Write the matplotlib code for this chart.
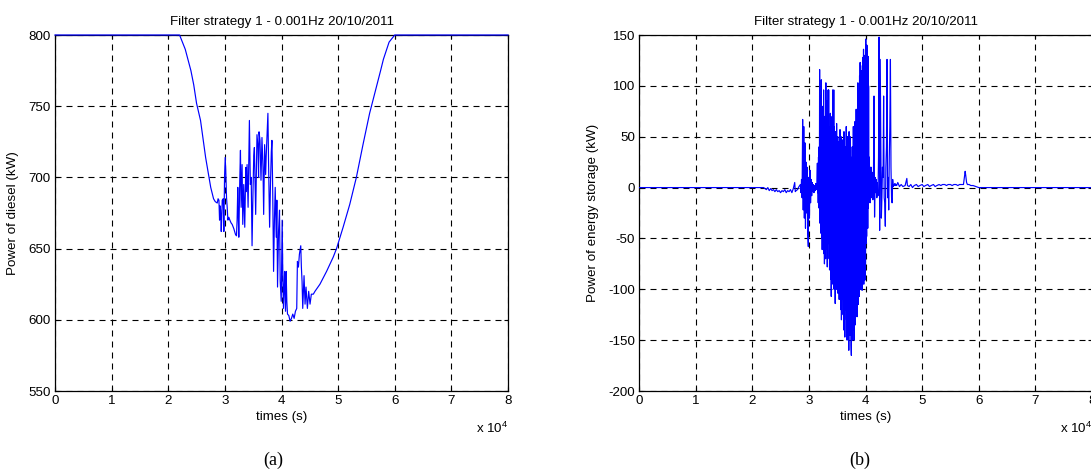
import numpy as np
import matplotlib
matplotlib.use('Agg')
import matplotlib.pyplot as plt

plt.rcParams['font.family'] = ['Liberation Sans', 'DejaVu Sans']
plt.rcParams['mathtext.fontset'] = 'custom'
plt.rcParams['mathtext.rm'] = 'Liberation Sans'
plt.rcParams['mathtext.it'] = 'Liberation Sans:italic'
plt.rcParams['axes.unicode_minus'] = False

title = 'Filter strategy 1 - 0.001Hz 20/10/2011'
x_ticks = [0, 10000, 20000, 30000, 40000, 50000, 60000, 70000, 80000]
x_tick_labels = ['0', '1', '2', '3', '4', '5', '6', '7', '8']
diesel_yticks = [550, 600, 650, 700, 750, 800]
storage_yticks = [-200, -150, -100, -50, 0, 50, 100, 150]

# (a) diesel power
diesel_t = [0, 22000, 23000, 24000, 24500, 25000, 25700, 26600, 27500, 28000,
            28300, 28650, 28800, 28950, 29060, 29150, 29240, 29360, 29450, 29530,
            29710, 29820, 29940, 30060, 30180, 30290, 30410, 30530, 30700, 30880,
            31100, 31290, 31580, 31870, 32050, 32160, 32280, 32360, 32460, 32630,
            32750, 32870, 33040, 33160, 33330, 33510, 33690, 33800, 33920, 34100,
            34330, 34500, 34650, 34800, 34970, 35100, 35210, 35440, 35550, 35670,
            35850, 35950, 36030, 36200, 36380, 36550, 36730, 36850, 37020, 37200,
            37300, 37430, 37600, 37720, 37900, 38070, 38200, 38310, 38450, 38600,
            38750, 38890, 39070, 39180, 39300, 39480, 39650, 39770, 39950, 40120,
            40240, 40350, 40530, 40710, 40820, 40940, 41060, 41290, 41520, 41760,
            41990, 42230, 42460, 42690, 42810, 42990, 43160, 43400, 43510, 43630,
            43750, 43980, 44160, 44330, 44570, 44800, 45040, 45270, 45620, 45910,
            46790, 47960, 49130, 49720, 50880, 52050, 53220, 54390, 55560, 56730,
            57500, 58000, 59000, 60000, 80000]
diesel_kw = [800, 800, 790, 775, 765, 752, 740, 714, 693, 685,
             683, 682, 685, 684, 670, 680, 677, 662, 672, 684,
             685, 662, 700, 714, 702, 686, 679, 670, 672, 670,
             668, 667, 664, 660, 659, 670, 693, 675, 658, 698,
             719, 679, 709, 667, 695, 665, 707, 690, 709, 679,
             740, 695, 700, 652, 691, 715, 721, 674, 700, 730,
             721, 700, 732, 726, 698, 728, 707, 674, 723, 702,
             715, 728, 745, 709, 665, 698, 718, 726, 690, 634,
             670, 693, 658, 684, 623, 662, 677, 627, 613, 670,
             627, 608, 634, 606, 634, 613, 604, 603, 599, 601,
             604, 601, 606, 608, 641, 637, 646, 652, 637, 627,
             608, 631, 611, 623, 608, 620, 611, 618, 618, 620,
             625, 634, 644, 650, 665, 681, 700, 723, 745, 763,
             775, 783, 795, 800, 800]

# (b) energy storage power: quiet lead-in
storage_pre_t = [0, 22000, 22250, 22500, 22750, 23000, 23250, 23500, 23750, 24000,
                 24250, 24500, 24750, 25000, 25250, 25500, 25750, 26000, 26250, 26500,
                 26750, 27000, 27250, 27500, 27600, 27750, 28000, 28250]
storage_pre_kw = [0, 0, -1, -2, 0, -3, -1, -3, -2, -4,
                  -2, -4, -3, -5, -3, -4, -2, -5, -3, -4,
                  -2, -5, -1, 5, -4, -3, -2, 1]

# start of the burst, sampled every 100 s from 28500 s
early_start, early_step = 28500, 100
storage_early_kw = [3, -5, 8, -10, 67, -22, 60, -30, 44, -40,
                    25, -25, 20, -45, -58, 10, -30, 17, -15, 8,
                    -8, 5, -4, 3, -5, 2, -3, 4, -2, 0]

# dense core of the burst, sampled every 50 s from 31500 s
core_start, core_step = 31500, 50
storage_core_kw = [24, -5, 10, -15, 30, -20, 40, -10, 116, -35, 60, -30, 90, -45, 106, -50, 70, -61, 40, -55,
                   80, -40, 96, -65, 50, -75, 70, -30, 60, -70, 103, -50, 45, -60, 85, -78, 40, -70, 96, -55,
                   96, -50, 60, -81, 40, -70, 73, -90, 50, -107, 60, -85, 70, -60, 96, -95, 50, -80, 96, -100,
                   60, -90, 40, -114, 55, -70, 30, -100, 63, -80, 45, -95, 50, -104, 30, -75, 45, -110, 20, -90,
                   57, -100, 35, -120, 50, -130, 30, -95, 45, -110, 47, -125, 25, -140, 55, -100, 40, -147, 30, -120,
                   40, -110, 60, -130, 25, -150, 50, -120, 45, -140, 30, -160, 55, -125, 35, -145, 50, -120, 30, -155,
                   -165, 24, -130, 40, -150, 30, -110, 60, -140, 50, -150, 45, -120, 65, -135, 40, -110, 77, -125, 55,
                   -127, 70, -100, 103, -115, 80, -90, 95, -107, 110, -85, 123, -100, 90, -95, 115, -80, 100, -101, 120,
                   -90, 128, -70, 136, -95, 110, -60, 130, -91, 100, -75, 146, -55, 120, -48, 140, -30, 80, -40, 129,
                   -20, 100, 1, 30, -9, 15, -15, 20, -10, 10]

# end of the burst, sampled every 100 s from 41000 s
late_start, late_step = 41000, 100
storage_late_kw = [20, -10, 15, -12, 5, 90, -29, 10, -5, 8,
                   -10, 5, -8, 30, 148, -42, 126, 40, -30, -9,
                   20, 10, 90, -10, -15, -38, 20, 40, 126, -10,
                   10, -22, 30, 60, 126, 20, -10, -15, 8, 1,
                   3, 2, 4, 2, 3]

# tail after the burst
storage_post_t = [45500, 45700, 46000, 46300, 46600, 47000, 47300, 47400, 47700, 48000,
                  48300, 48600, 49000, 49300, 49600, 50000, 50300, 50600, 51000, 51300,
                  51600, 52000, 52300, 52600, 53000, 53300, 53600, 54000, 54300, 54600,
                  55000, 55300, 55600, 56000, 56300, 56600, 57000, 57300, 57600, 57700,
                  57850, 58000, 58300, 58600, 59000, 59500, 60000, 80000]
storage_post_kw = [2, 5, 1, 3, 1, 2, 9, 2, 1, 3,
                   0, 2, 3, 1, 2, 3, 1, 2, 3, 1,
                   2, 3, 1, 2, 3, 2, 3, 3, 2, 3,
                   3, 2, 3, 3, 2, 3, 3, 3, 16, 12,
                   5, 3, 3, 2, 2, 1, 0, 0]

early_t = early_start + early_step * np.arange(len(storage_early_kw))
core_t = core_start + core_step * np.arange(len(storage_core_kw))
late_t = late_start + late_step * np.arange(len(storage_late_kw))
storage_t = np.concatenate([storage_pre_t, early_t, core_t, late_t, storage_post_t])
storage_kw = np.concatenate([storage_pre_kw, storage_early_kw, storage_core_kw,
                             storage_late_kw, storage_post_kw])

W, H = 1091, 472
fig = plt.figure(figsize=(W / 100, H / 100), dpi=100)
ax1 = fig.add_axes([55 / W, (H - 391) / H, 453 / W, 356 / H])
ax2 = fig.add_axes([639 / W, (H - 391) / H, 453 / W, 356 / H])

fs = 9.6


def style(ax, yticks, ylabel, ylab_x):
    ax.set_xlim(0, 80000)
    ax.set_xticks(x_ticks)
    ax.set_xticklabels(x_tick_labels)
    ax.set_ylim(yticks[0], yticks[-1])
    ax.set_yticks(yticks)
    ax.grid(True, color='black', linestyle=(0, (5.4, 4.5)), linewidth=0.8)
    ax.tick_params(direction='in', top=True, right=True, length=3, width=0.8,
                   labelsize=fs, pad=3)
    for s in ax.spines.values():
        s.set_linewidth(0.9)
    ax.set_title(title, fontsize=fs, pad=7)
    ax.set_xlabel('times (s)', fontsize=fs, labelpad=3)
    ax.set_ylabel(ylabel, fontsize=fs)
    ax.yaxis.set_label_coords(ylab_x, 0.5)
    ax.text(1.0, -0.104, 'x 10$^{4}$', transform=ax.transAxes,
            ha='right', va='center', fontsize=fs)


ax1.plot(diesel_t, diesel_kw, color='#0000ff', lw=0.85, clip_on=False, zorder=3)
style(ax1, diesel_yticks, 'Power of diesel (kW)', -36 / 453)

ax2.plot(storage_t, storage_kw, color='#0000ff', lw=0.85, zorder=3)
style(ax2, storage_yticks, 'Power of energy storage (kW)', -40 / 453)

fig.text(273 / W, 1 - 460 / H, '(a)', family='Liberation Serif', fontsize=13,
         ha='center', va='center')
fig.text(860 / W, 1 - 460 / H, '(b)', family='Liberation Serif', fontsize=13,
         ha='center', va='center')

fig.savefig('out.png', dpi=100)
